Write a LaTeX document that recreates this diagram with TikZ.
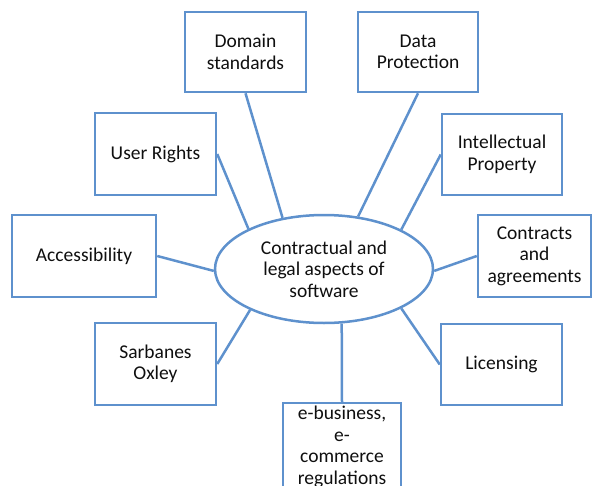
\documentclass[tikz,border=0pt]{standalone}
\usepackage{fontspec}
\setmainfont{Carlito}
\usetikzlibrary{shapes.geometric}
\definecolor{edgeblue}{RGB}{94,145,205}
\definecolor{ink}{RGB}{15,15,15}
\begin{document}
\begin{tikzpicture}[x=1pt,y=-1pt,
  every node/.style={font=\fontsize{19.5}{21.5}\selectfont, text=ink, align=center, inner sep=0pt},
  topic/.style={draw=edgeblue, line width=2.5pt, rectangle, fill=white},
  hub/.style={draw=edgeblue, line width=2.5pt, ellipse, fill=white,
              minimum width=218pt, minimum height=108pt},
  link/.style={draw=edgeblue, line width=2.5pt}]
\useasboundingbox (0,0) rectangle (592,485);

\node[hub] (ell) at (324,269) {Contractual and\\legal aspects of\\software};

\node[topic, minimum width=121pt, minimum height=80pt] (dom)  at (245.5,52)  {Domain\\standards};
\node[topic, minimum width=120pt, minimum height=80pt] (data) at (418,52)    {Data\\Protection};
\node[topic, minimum width=121pt, minimum height=82pt] (user) at (155.5,154) {User Rights};
\node[topic, minimum width=120pt, minimum height=81pt] (ip)   at (502,154.5) {Intellectual\\Property};
\node[topic, minimum width=144pt, minimum height=82pt] (acc)  at (84,256)    {Accessibility};
\node[topic, minimum width=113pt, minimum height=82pt] (con)  at (534.5,256) {Contracts\\and\\agreements};
\node[topic, minimum width=121pt, minimum height=82pt] (sar)  at (155.5,364) {Sarbanes\\Oxley};
\node[topic, minimum width=121pt, minimum height=81pt] (lic)  at (501.5,364.5) {Licensing};
\node[topic, minimum width=118pt, minimum height=88pt] (ebiz) at (342,447)   {e-business,\\e-\\commerce\\regulations};

\draw[link] (dom.south)  -- (ell.129);
\draw[link] (data.south) -- (ell.57);
\draw[link] (user.east)  -- (ell.152);
\draw[link] (ip.west)    -- (ell.27);
\draw[link] (acc.east)   -- (ell.181);
\draw[link] (con.west)   -- (ell.359);
\draw[link] (sar.east)   -- (ell.209);
\draw[link] (lic.west)   -- (ell.333);
\draw[link] (ebiz.north) -- (ell.288);
\end{tikzpicture}
\end{document}
